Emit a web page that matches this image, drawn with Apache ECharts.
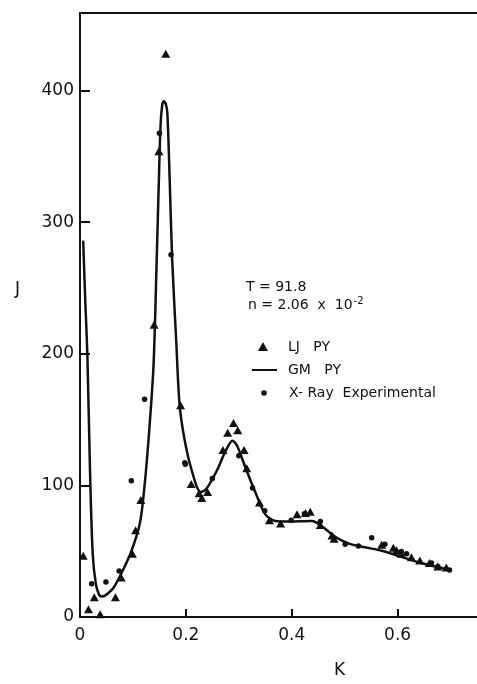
<!DOCTYPE html>
<html>
<head>
<meta charset="utf-8">
<script src="https://cdn.jsdelivr.net/npm/echarts@6/dist/echarts.min.js"></script>
<style>
html,body{margin:0;padding:0;background:#fff;}
#c{width:477px;height:684px;}
</style>
</head>
<body>
<div id="c"></div>
<script>
// GM PY curve
var curveK = [0.006,0.010,0.014,0.019,0.024,0.030,0.036,0.041,0.050,0.063,0.078,0.097,0.113,0.122,0.131,0.139,0.145,0.149,0.152,0.155,0.158,0.162,0.165,0.169,0.174,0.182,0.188,0.197,0.210,0.228,0.238,0.257,0.275,0.288,0.297,0.313,0.332,0.350,0.369,0.394,0.438,0.457,0.482,0.507,0.538,0.570,0.601,0.639,0.664,0.698];
var curveJ = [286,240,198,110,48,25,17,15.5,17,22,33,50,71,100,143,192,273,332,372,388,392,390,383,338,273,208,162,136,113,95,97,110,126,134,130,113,94,78,73,72.6,73,69,61,56,53,50.4,46.5,41.6,39,36];
// LJ PY triangles
var ljK = [0.006,0.016,0.027,0.038,0.067,0.078,0.099,0.105,0.115,0.140,0.149,0.162,0.190,0.210,0.225,0.230,0.241,0.270,0.279,0.290,0.298,0.310,0.315,0.339,0.358,0.379,0.410,0.426,0.435,0.454,0.476,0.480,0.570,0.592,0.598,0.607,0.626,0.642,0.660,0.676,0.692];
var ljJ = [46.5,5.8,15,2,15,30,48,66,89,222,354,428,161,101,94,90.5,95,127,140,147.5,142,127,113,87,73.6,71,78,79,80,70,62,59.5,55,52.7,50.7,48,45.5,43,41,38.4,37.7];
// X-Ray experimental dots
var xrK = [0.022,0.049,0.074,0.097,0.122,0.150,0.172,0.198,0.199,0.250,0.300,0.326,0.349,0.399,0.424,0.454,0.501,0.526,0.551,0.576,0.607,0.617,0.664,0.676,0.698];
var xrJ = [25.3,26.6,35,103.5,165.5,367.6,275.3,117.2,116,105.2,122.5,98,80.7,73.5,78.5,72.6,55.3,54,60.2,55.3,49.8,48.1,41,38.4,35.8];
var xTicks = [0, 0.2, 0.4, 0.6];
var yTicks = [0, 100, 200, 300, 400];
var legendNames = ['LJ   PY', 'GM   PY', 'X- Ray  Experimental'];

function zip(a, b) { return a.map(function (v, i) { return [v, b[i]]; }); }

var chart = echarts.init(document.getElementById('c'), null, {renderer: 'canvas'});
var font = 'DejaVu Sans';
var ink = '#111';
chart.setOption({
  animation: false,
  backgroundColor: '#fff',
  grid: {left: 80, top: 13, width: 399, height: 614, show: false},
  xAxis: [{
    type: 'value', min: 0, max: 0.75, interval: 0.2,
    name: 'K', nameLocation: 'middle', nameGap: 45,
    nameTextStyle: {fontFamily: font, fontSize: 17, color: ink, padding: [0, 0, 0, 122]},
    axisLine: {lineStyle: {color: ink, width: 2}},
    axisTick: {inside: true, length: 8, lineStyle: {width: 2, color: ink}},
    axisLabel: {fontFamily: font, fontSize: 17, color: ink, margin: 10, showMaxLabel: false,
      formatter: function (v) { return xTicks.indexOf(Math.round(v * 10) / 10) >= 0 ? (v === 0 ? '0' : v.toFixed(1)) : ''; }},
    splitLine: {show: false}
  }, {
    type: 'value', position: 'top', min: 0, max: 0.75,
    axisLine: {lineStyle: {color: ink, width: 2}},
    axisTick: {show: false}, axisLabel: {show: false}, splitLine: {show: false}
  }],
  yAxis: {
    type: 'value', min: 0, max: 459, interval: 100,
    name: 'J\n \n ', nameLocation: 'middle', nameGap: 60, nameRotate: 0,
    nameTextStyle: {fontFamily: font, fontSize: 17, color: ink, lineHeight: 25},
    axisLine: {lineStyle: {color: ink, width: 2}},
    axisTick: {inside: true, length: 10, lineStyle: {width: 2, color: ink}},
    axisLabel: {fontFamily: font, fontSize: 17, color: ink, margin: 6, showMaxLabel: false,
      formatter: function (v) { return yTicks.indexOf(v) >= 0 ? String(v) : ''; }},
    splitLine: {show: false}
  },
  graphic: [
    {type: 'text', left: 246, top: 280, style: {text: 'T = 91.8', font: '14px "DejaVu Sans"', fill: ink}},
    {type: 'text', left: 248, top: 296, style: {
      text: 'n = 2.06  x  10{sup|-2}', font: '14px "DejaVu Sans"', fill: ink,
      rich: {sup: {fontSize: 10, fontFamily: font, verticalAlign: 'top', padding: [0, 0, 8, 1]}}
    }},
    {type: 'polygon', shape: {points: [[258, 351], [268, 351], [263, 342]]}, style: {fill: ink}},
    {type: 'line', shape: {x1: 252, y1: 370, x2: 277, y2: 370}, style: {stroke: ink, lineWidth: 2}},
    {type: 'circle', shape: {cx: 264, cy: 393, r: 2.8}, style: {fill: ink}},
    {type: 'text', style: {x: 288, y: 347, text: legendNames[0], font: '14px "DejaVu Sans"', fill: ink, verticalAlign: 'middle'}},
    {type: 'text', style: {x: 288, y: 370, text: legendNames[1], font: '14px "DejaVu Sans"', fill: ink, verticalAlign: 'middle'}},
    {type: 'text', style: {x: 289, y: 393, text: legendNames[2], font: '14px "DejaVu Sans"', fill: ink, verticalAlign: 'middle'}}
  ],
  series: [
    {
      name: legendNames[1], type: 'line', data: zip(curveK, curveJ), smooth: 0.3,
      showSymbol: false, symbol: 'none', lineStyle: {color: ink, width: 2.5}, itemStyle: {color: ink}, z: 2
    },
    {
      name: legendNames[0], type: 'scatter', data: zip(ljK, ljJ), symbol: 'triangle', symbolSize: [9, 8],
      itemStyle: {color: ink, opacity: 1}, z: 3
    },
    {
      name: legendNames[2], type: 'scatter', data: zip(xrK, xrJ), symbol: 'circle', symbolSize: 5.5,
      itemStyle: {color: ink, opacity: 1}, z: 3
    }
  ]
});
</script>
</body>
</html>
